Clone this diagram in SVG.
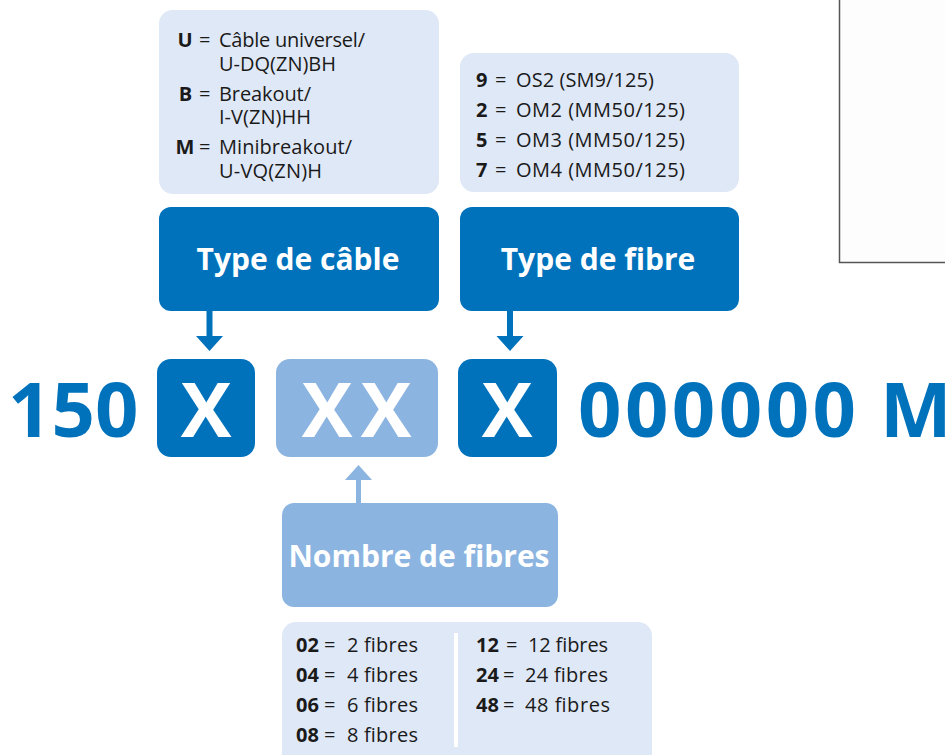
<svg xmlns="http://www.w3.org/2000/svg" width="945" height="755" viewBox="0 0 945 755">
<style>
.bg{fill:#dfe8f6}
.dk{fill:#0072bc}
.lt{fill:#8cb4e1}
.t{font-family:"Open Sans","Noto Sans",sans-serif;font-size:20px;fill:#1a1a1a}
.b{font-weight:bold}
.m{text-anchor:middle}
.h{font-family:"Open Sans","Noto Sans",sans-serif;font-size:30px;font-weight:bold;fill:#fff;text-anchor:middle}
.big{font-family:"Open Sans","Noto Sans",sans-serif;font-size:76px;font-weight:bold}
.bw{fill:#fff;text-anchor:middle}
.bb{fill:#0072bc}
</style>
<rect width="945" height="755" fill="#fff"/>
<rect x="839.5" y="-10" width="120" height="272.5" fill="#fdfdfd" stroke="#555" stroke-width="1.5"/>

<g id="cable-legend">
<rect class="bg" x="159" y="10" width="280" height="184" rx="14"/>
<text class="t b m" x="185" y="47">U</text><text class="t" x="199" y="47">=</text><text class="t" x="219" y="47" textLength="146">Câble universel/</text>
<text class="t" x="219" y="71" textLength="117">U-DQ(ZN)BH</text>
<text class="t b m" x="185.5" y="101">B</text><text class="t" x="199" y="101">=</text><text class="t" x="219" y="101" textLength="92">Breakout/</text>
<text class="t" x="219" y="124" textLength="92">I-V(ZN)HH</text>
<text class="t b m" x="185" y="154">M</text><text class="t" x="199" y="154">=</text><text class="t" x="219" y="154" textLength="133">Minibreakout/</text>
<text class="t" x="219" y="178" textLength="103">U-VQ(ZN)H</text>
</g>

<g id="fibre-legend">
<rect class="bg" x="460" y="53" width="279" height="139" rx="14"/>
<text class="t b" x="476" y="87">9</text><text class="t" x="495" y="87">=</text><text class="t" x="516" y="87" textLength="138">OS2 (SM9/125)</text>
<text class="t b" x="476" y="117">2</text><text class="t" x="495" y="117">=</text><text class="t" x="516" y="117" textLength="169">OM2 (MM50/125)</text>
<text class="t b" x="476" y="147">5</text><text class="t" x="495" y="147">=</text><text class="t" x="516" y="147" textLength="169">OM3 (MM50/125)</text>
<text class="t b" x="476" y="177">7</text><text class="t" x="495" y="177">=</text><text class="t" x="516" y="177" textLength="169">OM4 (MM50/125)</text>
</g>

<g id="type-cable">
<rect class="dk" x="159" y="207" width="280" height="104" rx="12"/>
<text class="h" x="298" y="270">Type de câble</text>
</g>

<g id="type-fibre">
<rect class="dk" x="460" y="207" width="279" height="104" rx="12"/>
<text class="h" x="598" y="270">Type de fibre</text>
</g>

<g id="prefix"><text class="big bb" x="8" y="437">150</text></g>

<g id="x-cable">
<rect class="dk" x="157" y="359" width="98" height="98" rx="14"/>
<text class="big bw" x="206" y="437">X</text>
</g>

<g id="xx-count">
<rect class="lt" x="276" y="359" width="162" height="98" rx="14"/>
<text class="big bw" x="327" y="437">X</text>
<text class="big bw" x="386" y="437">X</text>
</g>

<g id="x-fibre">
<rect class="dk" x="458" y="359" width="99" height="98" rx="14"/>
<text class="big bw" x="507" y="437">X</text>
</g>

<g id="suffix">
<text class="big bb" x="578" y="437" textLength="278" lengthAdjust="spacing">000000</text>
<text class="big bb" x="880" y="437">M</text>
</g>

<g id="nombre">
<rect class="lt" x="282" y="503" width="276" height="104" rx="12"/>
<text class="h" x="419" y="567">Nombre de fibres</text>
</g>

<g id="count-legend">
<rect class="bg" x="282" y="622" width="370" height="150" rx="14"/>
<rect x="454" y="633" width="4" height="114" fill="#fff"/>
<text class="t b" x="296" y="652">02</text><text class="t" x="324" y="652">=</text><text class="t" x="347" y="652" textLength="71">2 fibres</text>
<text class="t b" x="296" y="682">04</text><text class="t" x="324" y="682">=</text><text class="t" x="347" y="682" textLength="71">4 fibres</text>
<text class="t b" x="296" y="712">06</text><text class="t" x="324" y="712">=</text><text class="t" x="347" y="712" textLength="71">6 fibres</text>
<text class="t b" x="296" y="742">08</text><text class="t" x="324" y="742">=</text><text class="t" x="347" y="742" textLength="71">8 fibres</text>
<text class="t b" x="476" y="652">12</text><text class="t" x="506" y="652">=</text><text class="t" x="528" y="652" textLength="80">12 fibres</text>
<text class="t b" x="476" y="682">24</text><text class="t" x="503" y="682">=</text><text class="t" x="525" y="682" textLength="83">24 fibres</text>
<text class="t b" x="476" y="712">48</text><text class="t" x="503" y="712">=</text><text class="t" x="525" y="712" textLength="85">48 fibres</text>
</g>

<g id="connectors">
<path class="dk" d="M206.5 311 h6 v25 h10.5 l-13.5 15 l-13.5 -15 h10.5z"/>
<path class="dk" d="M507 311 h6 v25 h10.5 l-13.5 15 l-13.5 -15 h10.5z"/>
<path class="lt" d="M356 503 h5 v-23 h11 l-13.5 -15 l-13.5 15 h11z"/>
</g>
</svg>
